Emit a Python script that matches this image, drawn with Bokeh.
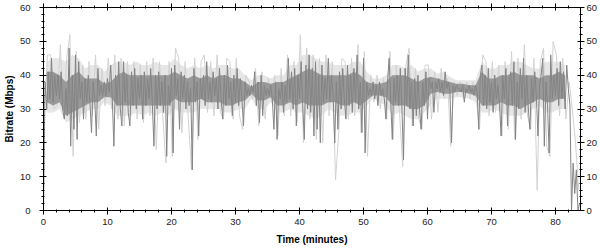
import numpy as np
from bokeh.plotting import figure
from bokeh.models import LinearAxis, SingleIntervalTicker, Range1d
from bokeh.embed import file_html
from bokeh.resources import INLINE

# Bitrate samples (Mbps), one every 0.25 minute (dark trace)
bitrate = [
    0, 38, 30, 41,   33, 45, 32, 40,   34, 40, 33, 41,   30, 27, 36, 28,
    48, 19, 40, 24,  46, 21, 44, 33,   38, 27, 39, 32,   40, 32, 23, 38,
    33, 22, 42, 34,  37, 34, 38, 34,   39, 35, 43, 33,   19, 40, 31, 44,
    30, 25, 44, 32,  40, 29, 25, 41,   31, 42, 30, 39,   33, 40, 27, 41,
    31, 39, 33, 42,  32, 19, 40, 30,   41, 31, 38, 29,   40, 16, 37, 31,
    42, 17, 43, 34,  39, 24, 41, 33,   40, 30, 38, 31,   36, 12, 42, 32,
    38, 22, 39, 33,  40, 31, 44, 33,   38, 32, 41, 34,   39, 30, 42, 33,
    27, 40, 31, 43,  33, 38, 28, 40,   32, 42, 31, 39,   33, 25, 38, 34,
    36, 34, 37, 35,  41, 31, 38, 26,   40, 28, 37, 34,   36, 34, 37, 33,
    24, 38, 21, 36,  33, 38, 29, 37,   32, 45, 33, 41,   30, 42, 25, 40,
    33, 44, 31, 21,  43, 30, 46, 29,   42, 22, 44, 24,   40, 20, 43, 32,
    39, 33, 45, 32,  40, 34, 20, 38,   24, 41, 30, 42,   33, 27, 43, 31,
    40, 29, 42, 32,  46, 30, 38, 23,   45, 17, 38, 34,   36, 34, 38, 33,
    37, 31, 38, 34,  36, 33, 27, 38,   45, 32, 21, 39,   32, 40, 31, 42,
    30, 15, 42, 31,  46, 30, 38, 25,   39, 28, 40, 30,   24, 38, 31, 41,
    27, 39, 36, 38,  29, 38, 36, 39,   35, 38, 34, 41,   36, 38, 35, 20,
    37, 35, 37, 36,  36, 35, 37, 32,   36, 35, 37, 35,   36, 34, 37, 35,
    24, 40, 43, 31,  40, 30, 42, 32,   38, 29, 40, 33,   37, 31, 22, 40,
    33, 42, 25, 38,  41, 31, 44, 21,   38, 30, 42, 33,   45, 29, 40, 30,
    24, 39, 32, 41,  34, 22, 37, 40,   45, 19, 38, 31,   17, 46, 33, 40,
    34, 42, 31, 44,  33, 41, 30, 43,   36, 31, 0, 14,    5, 12, 0, 2,
]

# Peak samples (Mbps), one every 0.5 minute (light trace)
peaks = [
    30, 46,  46, 30,  31, 49,  28, 45,  52, 16,  47, 26,  43, 27,  44, 28,
    46, 24,  42, 31,  45, 30,  46, 27,  45, 25,  44, 28,  44, 27,  43, 26,
    44, 28,  45, 18,  44, 28,  14, 44,  16, 48,  45, 23,  44, 27,  12, 45,
    21, 44,  46, 29,  44, 28,  46, 29,  27, 45,  44, 27,  45, 28,  24, 40,
    38, 33,  42, 25,  41, 27,  39, 32,  40, 22,  42, 28,  46, 28,  44, 26,
    52, 20,  48, 27,  46, 21,  45, 20,  46, 28,  44, 9,   23, 45,  44, 27,
    45, 28,  49, 23,  47, 16,  40, 32,  40, 30,  39, 27,  47, 21,  43, 29,
    13, 43,  48, 25,  42, 27,  24, 43,  43, 27,  41, 29,  42, 33,  39, 19,
    38, 34,  38, 33,  38, 33,  38, 33,  24, 46,  44, 28,  44, 29,  43, 22,
    44, 24,  47, 21,  45, 27,  49, 28,  24, 45,  6, 44,   48, 19,  16, 50,
    46, 28,  45, 27,  38, 30,  20, 6,
]

# Dense core of the trace per minute (Mbps): lower / upper edge
core_lo = [
    32, 31, 32, 28, 29, 30, 31, 32, 32, 33.5, 33.5, 31, 31, 31, 31, 31,
    31, 31, 31, 31, 33, 32, 32, 32, 33, 32, 32, 32, 31, 31, 32, 32.5,
    34.5, 32.5, 32.5, 33.5, 31, 31, 32, 31, 32, 31, 31, 31, 32, 32, 31, 31,
    32, 31, 32.5, 34, 34, 33.5, 31, 31, 31, 30, 30, 31, 34.5, 35, 34.5, 34.5,
    35, 35, 34.5, 34, 31, 31, 31, 32, 31, 31, 30, 31, 32, 33, 32, 32,
    33, 33,
]
core_hi = [
    41, 41, 40, 38, 40, 41, 39, 39, 39, 37.5, 38, 40, 41, 40, 40, 40,
    40, 40, 40, 40, 41, 40, 39, 40, 39, 40, 39, 40, 40, 39, 39, 38,
    36.5, 38, 38, 37.5, 38, 38, 39, 40, 41, 42, 41, 40, 40, 40, 40, 40,
    41, 40, 38, 37.5, 37.5, 38, 40, 40, 40, 39, 38, 39, 39.5, 39, 38.5, 38,
    37.5, 37.5, 37, 37, 41, 39, 39, 40, 40, 41, 40, 40, 40, 39, 40, 40,
    41, 40,
]

# Faint spread around the trace per minute (Mbps): lower / upper edge
halo_lo = [
    29, 29, 30, 26, 27, 28, 29, 30, 30, 32, 31, 28, 28, 28, 29, 28,
    29, 28, 29, 28, 30, 29, 29, 29, 30, 30, 30, 30, 29, 29, 30, 30,
    33, 30, 30, 32, 29, 29, 30, 29, 29, 28, 27, 28, 30, 29, 28, 28,
    29, 29, 31, 33, 32, 31, 28, 29, 28, 27, 27, 29, 31, 33, 33, 33,
    33.5, 33.5, 33, 32, 29, 29, 30, 29, 28, 28, 28, 29, 30, 31, 29, 29,
    30, 30,
]
halo_hi = [
    44, 45, 45, 44, 46, 45, 42, 43, 43, 41, 43, 44, 44, 43, 44, 43,
    43, 44, 43, 43, 45, 43, 42, 43, 42, 43, 42, 43, 43, 42, 42, 40,
    38.5, 40, 40, 39, 40, 40, 43, 43, 46, 46, 45, 44, 44, 43, 43, 43,
    44, 44, 41, 39, 39, 40, 43, 43, 42, 43, 41, 42, 42, 40.5, 41, 39.5,
    38.5, 38.5, 38.5, 38.5, 44, 42, 42, 43, 43, 44, 44, 43, 42, 42, 44, 44,
    44, 43,
]

t_dark = np.arange(len(bitrate)) * 0.25
t_light = np.arange(len(peaks)) * 0.5 + 0.125
t_core = np.arange(len(core_lo)) * 1.0 + 0.5

FONT = "Liberation Sans"

p = figure(frame_width=537, frame_height=203, output_backend="svg", toolbar_location=None,
           x_range=Range1d(0, 83.9), y_range=Range1d(0, 60),
           min_border_left=41, min_border_right=22, min_border_top=7, min_border_bottom=38,
           x_axis_location=None, y_axis_location=None)
p.grid.visible = False
p.outline_line_color = "black"
p.background_fill_color = "white"
p.border_fill_color = "white"

p.varea(x=t_core, y1=halo_lo, y2=halo_hi, fill_color="#e6e6e6")
p.line(t_light, peaks, line_color="#d2d2d2", line_width=1)
p.varea(x=t_core, y1=core_lo, y2=core_hi, fill_color="#999999")
p.line(t_dark, bitrate, line_color="#848484", line_width=1)


def mk_axis(labels=True):
    ax = LinearAxis(ticker=SingleIntervalTicker(interval=10, num_minor_ticks=5))
    ax.axis_line_color = "black"
    ax.major_tick_line_color = "black"
    ax.minor_tick_line_color = "black"
    ax.major_tick_in = 3
    ax.major_tick_out = 4
    ax.minor_tick_in = 1
    ax.minor_tick_out = 2
    ax.major_label_text_font = FONT
    ax.major_label_text_font_size = "9.5px"
    ax.major_label_text_color = "#222222"
    ax.axis_label_text_font = FONT
    ax.axis_label_text_font_size = "10px"
    ax.axis_label_text_font_style = "bold"
    ax.axis_label_text_color = "black"
    if not labels:
        ax.major_label_text_color = None
        ax.major_label_text_font_size = "1px"
        ax.major_label_standoff = 0
    return ax


xb = mk_axis()
xb.axis_label = "Time (minutes)"
xb.major_label_standoff = 4
xb.axis_label_standoff = 6
p.add_layout(xb, "below")

xt = mk_axis(labels=False)
p.add_layout(xt, "above")

yl = mk_axis()
yl.axis_label = "Bitrate (Mbps)"
yl.major_label_standoff = 9
yl.axis_label_standoff = 2
p.add_layout(yl, "left")

yr = mk_axis()
yr.major_label_standoff = 2
p.add_layout(yr, "right")

open("out.html", "w").write(file_html(p, INLINE))
